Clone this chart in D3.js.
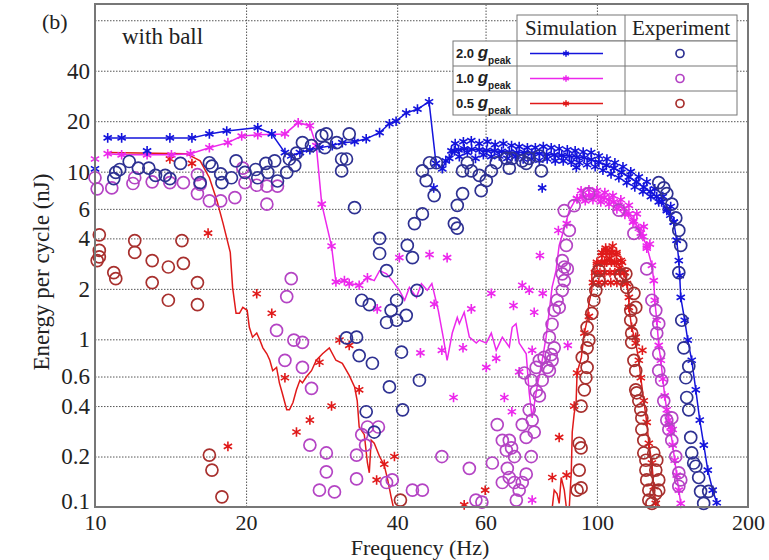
<!DOCTYPE html>
<html>
<head>
<meta charset="utf-8">
<script src="https://cdn.jsdelivr.net/npm/d3@7"></script>
<style>
  body { margin: 0; background: #fff; }
  text { font-family: "Liberation Serif", "Times New Roman", serif; fill: #222; }
</style>
</head>
<body>
<script>
// ---- axes ----
const xTicks = [10, 20, 40, 60, 100, 200];
const xGrid = [20, 40, 60, 100];
const yTicks = [0.1, 0.2, 0.4, 0.6, 1, 2, 4, 6, 10, 20, 40];
const yGrid = [0.2, 0.4, 0.6, 1, 2, 4, 6, 10, 20, 40, 80];

const levels = ["2.0", "1.0", "0.5"];

// ---- simulation, 2.0 g ----
// head and tail: line with a star on every point
const sim2Head = [[10.6,15.9],[11.3,15.9],[14.1,15.9],[15.6,15.9],[16.9,16.8],[18.3,17.5],[21.1,18.3],[22.5,16.8],
  [23.9,13.0],[24.6,12.4],[25.6,13.0],[26.8,13.5],[28.0,13.9],[29.7,14.3],[31.1,14.9],[32.9,15.1],[34.7,15.7],
  [36.9,17.1],[38.6,19.3],[39.8,20.0],[41.7,22.4],[43.9,23.6],[46.3,26.1],[47.8,11.2],[49.2,10.4],[50.0,11.6]];
// dense band: the line runs through the middle, the stars cover it
const sim2BandLine = [[50.8,12.0],[52.0,13.3],[54.4,13.7],[58.3,13.5],[62.5,13.3],[66.9,13.1],[71.7,13.0],
  [76.8,12.8],[82.2,12.6],[88.1,12.4],[94.4,12.1],[100.9,11.4],[108.1,10.5],[115.8,9.3],[124.0,8.1],[131.6,7.1],
  [137.8,6.0],[142.3,5.0],[144.2,3.9]];
const sim2BandMid = [[53.0,13.5],[56.3,13.6],[60.3,13.4],[64.6,13.2],[69.2,13.0],[74.2,12.9],[79.4,12.7],[85.1,12.5],
  [91.2,12.2],[97.5,11.8],[104.4,10.9],[111.9,9.9],[119.9,8.7],[127.7,7.6],[134.6,6.6],[140.0,5.5]];
const sim2BandStars = [[51.3,13.3],[52.2,14.7],[53.2,12.3],[54.2,15.1],[55.2,13.0],[56.2,15.3],[57.3,12.0],[58.3,14.7],
  [59.4,12.6],[60.5,15.1],[61.6,12.3],[62.7,14.5],[63.9,12.4],[65.1,14.7],[66.3,12.0],[67.6,14.3],[68.8,12.3],
  [70.0,14.1],[71.3,11.9],[72.7,13.9],[74.0,11.9],[75.4,13.9],[76.8,11.7],[78.2,14.1],[79.6,11.9],[81.1,13.9],
  [82.6,11.6],[84.1,13.7],[85.7,11.6],[87.3,13.5],[88.9,11.4],[90.5,13.3],[92.2,11.3],[93.9,13.1],[95.6,11.0],
  [97.4,13.0],[99.2,10.7],[100.9,12.4],[102.8,10.2],[104.7,11.9],[106.7,9.7],[108.6,11.3],[110.6,9.2],[112.7,10.7],
  [114.7,8.6],[116.8,10.0],[119.0,8.1],[121.2,9.3],[123.5,7.6],[125.7,8.7],[128.1,7.1],[130.4,7.9],[132.8,6.6],
  [135.3,7.1],[137.8,5.86],[140.3,6.2],[142.3,5.0],[144.2,3.9]];
const sim2Tail = [[145.6,2.95],[146.2,2.4],[146.9,1.78],[149.6,1.30],[151.7,0.99],[154.5,0.75],[157.4,0.50],
  [160.3,0.33],[163.3,0.234],[166.3,0.166],[170.1,0.126],[173.3,0.106]];
const sim2Stars = [[10.0,10.4],[12.7,13.3],[47.3,8.0],[77.8,8.0],[91.0,10.6]];

// ---- simulation, 1.0 g ----
const sim1Head = [[10.6,12.8],[11.3,12.6],[12.7,12.6],[14.2,12.6],[15.5,12.8],[16.9,13.9],[18.4,14.9],[19.6,16.3],
  [21.1,16.6],[23.9,16.8],[25.4,19.6],[26.8,18.8],[27.6,14.3],[28.3,6.4],[29.6,3.6],[30.2,2.2],[31.4,2.24],
  [32.1,2.15],[33.6,2.1],[34.9,2.33]];
const sim1Noise = [[36.0,2.24],[36.9,2.57],[38.1,2.46],[39.1,2.24],[40.4,1.96],[41.4,1.71],[42.3,2.04],[43.7,1.78],
  [44.7,2.15],[45.9,1.96],[46.9,2.15],[48.3,1.49],[49.4,1.03],[50.3,0.75],[51.5,1.09],[52.7,1.35],[53.2,1.24],
  [54.4,1.45],[55.7,1.03],[57.5,0.95],[58.3,0.99],[60.2,0.95],[61.6,1.09],[63.0,0.86],[64.8,1.03],[66.9,0.90],
  [67.8,1.18],[69.0,1.24],[70.0,0.95],[72.3,0.82],[73.3,0.48],[74.3,0.34],[76.0,0.52],[77.8,0.75],[79.2,1.03],
  [80.4,1.49],[81.4,2.04],[82.9,2.57],[84.1,3.63],[86.1,4.6],[88.1,5.86],[90.1,6.6]];
const sim1BandLine = [[91.3,6.9],[96.4,7.2],[100.9,7.1],[105.7,6.8],[110.6,6.3],[115.8,5.6],[121.2,4.6],[125.7,3.6]];
const sim1BandMid = [[93.8,7.1],[98.6,7.2],[103.3,7.0],[108.1,6.6],[113.2,6.0],[118.5,5.1],[123.5,4.1]];
const sim1BandStars = [[91.3,6.9],[93.0,7.7],[94.8,6.7],[96.4,7.8],[98.2,6.8],[100.0,7.7],[101.8,6.6],[103.7,7.5],
  [105.7,6.4],[107.6,7.2],[109.6,6.0],[111.6,6.8],[113.7,5.55],[115.8,6.3],[118.0,5.0],[120.1,5.6],[122.3,4.3],
  [124.0,4.7],[125.7,3.5],[127.5,3.7]];
const sim1Tail = [[128.7,2.76],[129.8,2.24],[130.4,1.71],[131.6,1.30],[132.8,0.92],[134.1,0.75],
  [135.3,0.58],[136.5,0.46],[137.8,0.38],[139.1,0.33],[140.3,0.28],[141.6,0.234],[142.9,0.19],[144.2,0.155],
  [145.6,0.126],[146.9,0.105]];
const sim1Stars = [[10.0,11.9],[36.5,1.52],[40.4,3.07],[46.4,3.2],[50.3,3.07],[61.6,1.88],[47.4,1.62],[56.2,1.52],
  [49.1,0.86],[44.5,0.83],[51.8,0.45],[60.2,0.68],[63.0,0.77],[54.1,0.89],[68.2,1.59],[71.0,2.1],[65.4,0.45],
  [70.0,0.64],[74.3,0.86],[78.0,1.88],[77.0,3.16],[83.8,4.46],[87.1,4.9],[73.3,1.96],[75.0,1.45],[87.5,0.92],
  [74.3,0.11],[67.7,0.37],[139.1,0.31],[140.3,0.30],[141.6,0.29],[138.5,0.36]];

// ---- simulation, 0.5 g ----
const sim05Head = [[10.6,13.0],[15.2,12.8],[16.2,11.6],[16.9,9.2],[17.5,6.7],[18.0,4.9],[18.6,3.3],[18.8,2.04],
  [19.1,1.43],[19.4,1.43],[19.7,1.55],[20.1,1.49],[20.3,1.18],[20.6,1.03],[21.0,1.09],[21.3,0.99],[21.6,0.89],
  [22.0,0.82],[22.3,0.75],[22.6,0.65],[23.0,0.68],[23.3,0.55],[23.6,0.48],[24.1,0.38],[24.4,0.38],[24.8,0.42],
  [25.2,0.50],[25.6,0.57],[25.9,0.55],[26.4,0.60],[27.0,0.65],[27.6,0.75],[28.4,0.82],[29.3,0.89],[30.2,0.75],
  [31.1,0.72],[32.1,0.61],[32.9,0.52],[33.3,0.43],[33.6,0.30],[34.4,0.27],[34.9,0.183],[35.2,0.16],[35.5,0.25],
  [36.0,0.24],[36.9,0.20],[37.7,0.177],[38.3,0.145],[38.9,0.115],[39.3,0.10],[40.0,0.08],[80.5,0.08],[81.5,0.1],
  [82.2,0.126],[83.3,0.12],[84.1,0.105],[84.9,0.15],[86.1,0.126],[86.9,0.1],[87.3,0.085],[88.1,0.1],[88.9,0.16],
  [89.3,0.28],[90.1,0.36],[90.9,0.42],[91.3,0.63],[93.1,0.78],[94.4,1.09],[95.6,1.30],[96.4,1.64],[97.7,1.96],
  [97.7,2.57]];
const sim05BandLine = [[100.0,2.8],[104.6,3.0],[108.4,2.9],[111.6,2.7],[113.2,2.5]];
const sim05BandStars = [[100.0,2.8],[102.3,3.16],[103.6,2.88],[104.6,3.39],[105.9,3.05],[106.9,3.3],[108.4,2.88],
  [109.4,3.2],[110.8,2.65],[111.6,2.95],[113.2,2.5],[104.1,3.5],[107.5,3.6],
  [102.3,3.29],[104.6,3.29],[106.9,3.29],[109.4,3.29],
  [100.0,2.88],[102.3,2.88],[104.6,2.88],[106.9,2.88],[109.4,2.88],[112.2,2.88],
  [99.1,2.5],[101.4,2.5],[103.7,2.5],[106.2,2.5],[108.6,2.5],[111.1,2.5],[113.7,2.5],
  [98.2,2.18],[100.9,2.18],[103.7,2.18],[106.6,2.18],[109.6,2.18],[112.6,2.18]];
const sim05Tail = [[114.8,2.15],[115.8,1.78],[115.8,1.55],[117.3,1.18],
  [119.5,0.95],[121.2,0.75],[122.3,0.59],[124.0,0.43],[125.7,0.32],[126.9,0.24],[128.7,0.183],[129.8,0.132],
  [131.0,0.105]];
const sim05Stars = [[14.1,11.9],[15.6,11.2],[16.8,4.3],[18.4,0.23],[21.0,1.87],[22.5,1.43],[23.9,0.59],[25.2,0.28],
  [26.8,0.33],[29.6,0.40],[28.0,0.73],[30.7,0.99],[32.1,0.92],[33.6,0.50],[37.7,0.18],[36.4,0.145],[39.5,0.2],
  [54.4,0.103],[59.9,0.126],[81.5,0.15],[87.0,0.155],[84.1,0.26],[90.1,0.40],[91.3,0.63],[94.4,1.09],[96.4,1.37],
  [119.5,1.03],[123.2,0.86]];

// ---- experiment ----
const exp2 = [[10.9,9.1],[11.0,9.9],[11.2,10.3],[11.7,11.5],[12.2,10.5],[12.8,10.5],[13.2,9.5],[13.8,9.5],[14.1,9.1],
  [14.8,11.2],[16.2,8.6],[16.9,11.3],[17.1,10.8],[17.8,9.7],[17.9,8.6],[18.7,9.2],[19.1,11.6],[19.9,9.9],[20.9,10.3],
  [21.1,9.2],[21.9,11.2],[22.1,9.9],[22.8,11.6],[23.1,8.8],[24.1,9.9],[24.4,11.9],[25.0,10.9],[25.2,12.9],[25.9,14.9],
  [27.0,14.3],[28.3,16.4],[28.9,16.8],[28.7,13.9],[30.3,14.9],[31.0,11.9],[31.7,11.9],[31.0,10.1],[32.1,16.8],
  [32.9,6.1],[36.9,4.0],[36.9,3.25],[38.1,2.57],[34.0,1.71],[35.2,1.61],[38.1,1.26],[38.9,1.49],[39.9,1.71],
  [39.9,1.30],[41.7,1.39],[43.8,1.96],[41.9,3.63],[42.9,3.07],[43.3,4.9],[44.9,5.6],[44.9,10.1],[45.7,8.84],
  [46.4,11.3],[47.4,7.2],[47.9,11.3],[52.7,6.3],[54.0,7.4],[52.0,4.9],[52.7,4.6],[55.2,11.3],[54.0,10.1],[56.2,10.1],
  [58.3,9.5],[58.8,7.7],[60.2,8.84],[61.6,10.1],[63.0,11.3],[66.0,12.0],[67.8,12.0],[71.0,11.6],[73.3,12.0],
  [76.8,12.4],[66.9,10.5],[72.3,11.2],[77.5,10.1],[31.7,1.02],[33.6,0.80],[35.7,0.72],[33.2,1.03],[38.6,0.52],
  [40.8,0.84],[44.3,0.57],[34.7,0.37],[41.0,0.38],[36.0,0.28],[132.8,8.6],[135.9,8.0],[137.8,7.4],[141.0,6.4],
  [143.6,5.3],[145.6,4.46],[146.9,3.63],[145.6,2.5],[147.6,1.30],[149.0,0.89],[150.4,0.59],[151.0,0.45],[152.4,0.38],
  [153.8,0.26],[154.5,0.21],[157.4,0.175],[159.5,0.15],[160.9,0.124],[163.2,0.105],[167.0,0.124],[152.4,0.69],
  [155.9,0.183]];
const exp1 = [[10.0,9.2],[10.1,7.9],[10.8,8.0],[11.9,8.5],[12.0,9.2],[13.0,8.7],[14.1,8.6],[15.0,8.6],[16.0,9.6],
  [16.0,7.4],[16.2,8.4],[16.9,6.7],[17.8,6.7],[19.0,7.0],[19.9,8.6],[19.7,10.5],[21.0,8.3],[22.0,8.2],[22.0,6.4],
  [23.1,8.2],[24.6,2.3],[24.1,1.8],[23.0,1.13],[24.9,0.99],[25.9,0.96],[23.9,0.75],[25.9,0.68],[27.0,0.51],
  [26.8,0.234],[28.9,0.21],[28.9,0.162],[28.0,0.126],[30.0,0.123],[33.2,0.204],[33.2,0.147],[34.0,0.27],[34.9,0.30],
  [36.7,0.30],[34.6,0.234],[38.1,0.14],[39.1,0.145],[42.9,0.126],[44.9,0.126],[49.1,0.20],[55.7,0.17],[57.4,0.11],
  [59.0,0.107],[61.9,0.183],[63.3,0.31],[64.8,0.25],[66.0,0.218],[67.6,0.225],[68.5,0.20],[66.3,0.17],[66.9,0.15],
  [68.5,0.14],[70.0,0.126],[69.1,0.11],[71.0,0.14],[72.3,0.157],[74.0,0.20],[72.3,0.26],[71.0,0.31],[74.3,0.33],
  [75.0,0.28],[73.3,0.38],[75.7,0.49],[77.8,0.57],[76.8,0.75],[78.5,0.78],[79.6,0.68],[81.1,0.81],[80.4,1.03],
  [81.4,1.23],[82.2,1.49],[83.3,1.71],[84.1,1.55],[85.3,1.96],[85.3,2.46],[86.1,2.7],[82.2,0.89],[81.4,0.75],
  [80.4,0.65],[71.7,0.63],[74.0,0.57],[75.7,0.68],[76.8,0.46],[66.9,0.25],[64.8,0.14],[86.1,5.86],[88.1,4.46],
  [86.9,3.63],[85.3,2.95],[87.3,2.63],[86.1,2.24],[90.1,6.28],[96.4,7.4],[110.6,5.9],[118.5,4.28],[125.7,2.63],
  [128.7,1.71],[131.0,1.49],[132.8,1.24],[131.6,1.09],
  [132.8,0.82],[132.8,0.65],[134.6,0.57],[135.9,0.43],[137.8,0.33],[139.1,0.29],[141.0,0.25],[143.6,0.20],
  [145.6,0.16],[146.9,0.145],[145.6,0.133],[141.0,0.34]];
const exp05 = [[10.2,4.2],[10.2,3.39],[10.2,3.1],[10.1,2.95],[10.9,2.5],[11.0,2.3],[12.0,3.88],[12.0,3.3],[13.0,2.95],
  [14.0,2.7],[14.9,3.88],[15.0,2.84],[13.0,2.18],[16.0,2.18],[14.0,1.71],[16.0,1.61],[16.9,0.204],[17.1,0.166],
  [17.9,0.115],[40.6,0.11],[91.3,0.126],[93.0,0.13],[92.2,0.166],[92.2,0.24],[93.0,0.225],[93.0,0.40],[94.4,0.50],
  [95.1,0.59],[95.6,0.68],[93.5,0.78],[95.6,0.89],[96.4,0.99],[95.6,1.18],[97.7,1.43],[98.6,1.71],[99.5,1.96],
  [100.9,2.24],[100.9,2.57],[111.6,2.4],[114.2,2.46],
  [114.7,2.04],[118.5,1.88],[119.5,1.55],[116.8,1.49],[116.8,1.3],[117.3,1.09],[117.3,0.96],[118.5,0.75],[119.5,0.65],
  [119.5,0.50],[120.0,0.48],[121.2,0.43],[122.3,0.38],[122.9,0.34],[122.9,0.29],[124.0,0.25],[124.0,0.21],[125.2,0.19],
  [125.2,0.166],[125.7,0.145],[126.9,0.126],[126.9,0.11],[128.7,0.105],[131.0,0.12],[132.8,0.145],[131.0,0.166],
  [131.6,0.19],[129.8,0.21],[132.8,0.126]];

const simColor = {"2.0": "#1414dc", "1.0": "#ec28ec", "0.5": "#e01a1a"};
const expColor = {"2.0": "#2e3192", "1.0": "#b444c4", "0.5": "#a8302e"};

const series = [
  {g: "0.5", line: sim05Head.concat(sim05BandLine, sim05Tail),
    stars: sim05BandStars.concat(sim05Tail, sim05Stars), exp: exp05},
  {g: "1.0", line: sim1Head.concat(sim1Noise, sim1BandLine, sim1Tail),
    stars: sim1Head.concat(sim1BandLine, sim1BandMid, sim1BandStars, sim1Tail, sim1Stars), exp: exp1},
  {g: "2.0", line: sim2Head.concat(sim2BandLine, sim2Tail),
    stars: sim2Head.concat(sim2BandLine, sim2BandMid, sim2BandStars, sim2Tail, sim2Stars), exp: exp2}
];

const W = 769, H = 560;
const plotL = 95, plotR = 748, plotT = 4, plotB = 507;
const serif = '"Liberation Serif", "Times New Roman", serif';

const svg = d3.select("body").append("svg").attr("width", W).attr("height", H);

const x = d3.scaleLog().domain([10, 200]).range([plotL, plotR]);
const y = d3.scaleLog().domain([0.1, 100]).range([plotB, plotT]);

// grid lines
svg.append("g")
  .attr("transform", "translate(0," + plotB + ")")
  .call(d3.axisBottom(x).tickValues(xGrid).tickSize(-(plotB - plotT)).tickFormat(""))
  .call(g => g.select(".domain").remove())
  .selectAll("line").attr("stroke", "#555").attr("stroke-width", 1).attr("stroke-dasharray", "1.5,1.5");
svg.append("g")
  .attr("transform", "translate(" + plotL + ",0)")
  .call(d3.axisLeft(y).tickValues(yGrid).tickSize(-(plotR - plotL)).tickFormat(""))
  .call(g => g.select(".domain").remove())
  .selectAll("line").attr("stroke", "#555").attr("stroke-width", 1).attr("stroke-dasharray", "1.5,1.5");

// tick labels
svg.append("g")
  .attr("transform", "translate(0," + plotB + ")")
  .call(d3.axisBottom(x).tickValues(xTicks).tickSize(0).tickPadding(7).tickFormat(d => d))
  .call(g => g.select(".domain").remove())
  .selectAll("text").style("font-size", "22px").style("fill", "#222").style("font-family", serif);
svg.append("g")
  .attr("transform", "translate(" + plotL + ",0)")
  .call(d3.axisLeft(y).tickValues(yTicks).tickSize(0).tickPadding(5).tickFormat(d => d))
  .call(g => g.select(".domain").remove())
  .selectAll("text").style("font-size", "23px").style("fill", "#222").style("font-family", serif)
  .attr("dy", d => d === 0.1 ? "0.05em" : "0.32em");

svg.append("clipPath").attr("id", "plot")
  .append("rect").attr("x", plotL).attr("y", plotT).attr("width", plotR - plotL).attr("height", plotB - plotT);

const line = d3.line().x(d => x(d[0])).y(d => y(d[1]));
const star = d3.symbol(d3.symbolAsterisk, 64);

const marks = svg.append("g");
series.forEach(s => {
  marks.append("path").datum(s.line)
    .attr("clip-path", "url(#plot)")
    .attr("d", line)
    .attr("fill", "none")
    .attr("stroke", simColor[s.g])
    .attr("stroke-width", 1.5);
});
series.forEach(s => {
  marks.append("g").selectAll("path").data(s.stars).enter().append("path")
    .attr("d", star)
    .attr("transform", d => "translate(" + x(d[0]) + "," + y(d[1]) + ")")
    .attr("fill", "none")
    .attr("stroke", simColor[s.g])
    .attr("stroke-width", 1.6);
});
series.forEach(s => {
  marks.append("g").selectAll("circle").data(s.exp).enter().append("circle")
    .attr("cx", d => x(d[0]))
    .attr("cy", d => y(d[1]))
    .attr("r", 6)
    .attr("fill", "none")
    .attr("stroke", expColor[s.g])
    .attr("stroke-width", 1.7);
});

// plot frame
svg.append("rect")
  .attr("x", plotL).attr("y", plotT).attr("width", plotR - plotL).attr("height", plotB - plotT)
  .attr("fill", "none").attr("stroke", "#777").attr("stroke-width", 2);

// axis titles and notes
svg.append("text").attr("x", 420).attr("y", 555).attr("text-anchor", "middle")
  .attr("font-size", 22).text("Frequency (Hz)");
svg.append("text").attr("transform", "translate(49,272) rotate(-90)").attr("text-anchor", "middle")
  .attr("font-size", 23).text("Energy per cycle (nJ)");
svg.append("text").attr("x", 42).attr("y", 29).attr("font-size", 22).text("(b)");
svg.append("text").attr("x", 122).attr("y", 44).attr("font-size", 23).text("with ball");

// legend table
const leg = svg.append("g");
const c0 = 453, c1 = 517, c2 = 625, c3 = 737;
const rowsY = [41, 66, 91, 115];
leg.append("rect").attr("x", c1).attr("y", 15).attr("width", c3 - c1).attr("height", rowsY[0] - 15)
  .attr("fill", "#fff").attr("stroke", "#777").attr("stroke-width", 1);
leg.append("rect").attr("x", c0).attr("y", rowsY[0]).attr("width", c3 - c0).attr("height", rowsY[3] - rowsY[0])
  .attr("fill", "#fff").attr("stroke", "#777").attr("stroke-width", 1);
[rowsY[1], rowsY[2]].forEach(v => {
  leg.append("line").attr("x1", c0).attr("x2", c3).attr("y1", v).attr("y2", v).attr("stroke", "#777");
});
[c1, c2].forEach(v => {
  leg.append("line").attr("x1", v).attr("x2", v).attr("y1", v === c1 ? rowsY[0] : 15).attr("y2", rowsY[3]).attr("stroke", "#777");
});
leg.append("text").attr("x", (c1 + c2) / 2).attr("y", 35).attr("text-anchor", "middle").attr("font-size", 21).text("Simulation");
leg.append("text").attr("x", (c2 + c3) / 2).attr("y", 35).attr("text-anchor", "middle").attr("font-size", 21).text("Experiment");

levels.forEach((g, i) => {
  const r0 = rowsY[i];
  const t = leg.append("text").attr("x", 456).attr("y", r0 + 17)
    .style("font-family", "Liberation Sans, Arial, sans-serif").style("font-weight", "bold");
  t.append("tspan").attr("font-size", 13).text(g + " ");
  t.append("tspan").attr("font-size", 17).style("font-style", "italic").text("g");
  t.append("tspan").attr("font-size", 10).attr("dy", 6).text("peak");
  const cy = r0 + 12.5;
  leg.append("line").attr("x1", 530).attr("x2", 603).attr("y1", cy).attr("y2", cy)
    .attr("stroke", simColor[g]).attr("stroke-width", 1.5);
  leg.append("path").attr("d", d3.symbol(d3.symbolAsterisk, 30)())
    .attr("transform", "translate(566," + cy + ")")
    .attr("fill", "none").attr("stroke", simColor[g]).attr("stroke-width", 1.5);
  leg.append("circle").attr("cx", 680).attr("cy", cy).attr("r", 4)
    .attr("fill", "none").attr("stroke", expColor[g]).attr("stroke-width", 1.7);
});
</script>
</body>
</html>
